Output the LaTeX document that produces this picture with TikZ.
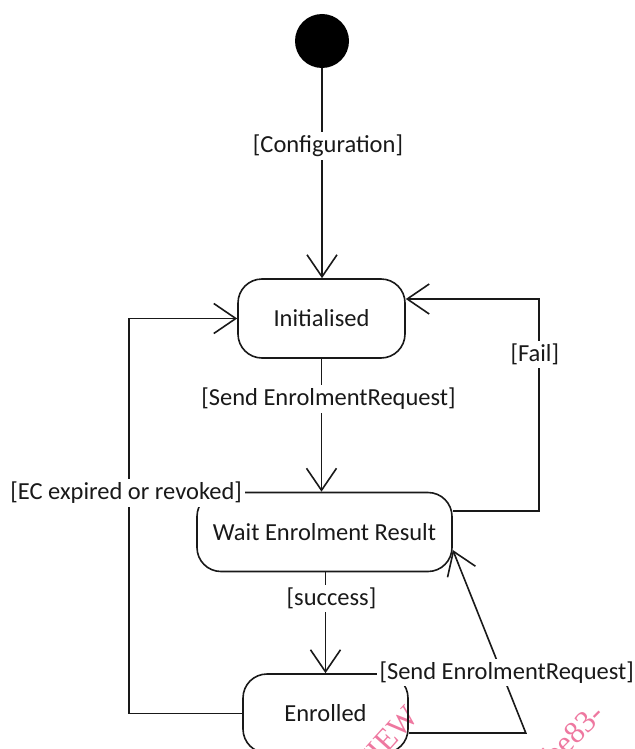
\documentclass[tikz,border=0pt]{standalone}
\usepackage{fontspec}
\setmainfont{Carlito}
\newfontfamily\wmfont{Liberation Serif}
\usetikzlibrary{arrows.meta}
\definecolor{wmpink}{RGB}{238,120,160}
\tikzset{
  state/.style={draw, rounded corners=24pt, line width=1.6pt, minimum height=79pt, inner sep=0pt},
  lbl/.style={fill=white, inner sep=3pt},
  arr/.style={line width=1.6pt, -{Straight Barb[length=22pt,width=30pt,line width=1.6pt]}},
  wmark/.style={text=wmpink, font=\fontsize{31}{31}\wmfont, inner sep=0pt}
}
\begin{document}
\begin{tikzpicture}[x=1pt, y=-1pt, font=\fontsize{24.5}{29}\selectfont, color=black!90]
    \useasboundingbox (0,0) rectangle (634,749);
    \node[wmark, rotate=48, anchor=base east] (wm1) at (420,718) {VIEW};
    \node[wmark, rotate=45, anchor=base east] (wm2) at (606,716) {be83-};
    \node[circle, fill=black, minimum size=54pt, inner sep=0pt] (start) at (322,41) {};
    \node[state, minimum width=167pt] (ini) at (321.5,318.5) {Initialised};
    \node[state, minimum width=255pt] (wait) at (324.5,532) {Wait Enrolment Result};
    \node[state, minimum width=165pt] (enr) at (325.5,713.5) {Enrolled};
    \draw[arr] (start) -- node[lbl, pos=.37, xshift=6pt] {[Configuration]} (start |- ini.north);
    \draw[arr] (ini.south) -- node[lbl, pos=.3, xshift=7pt] {[Send EnrolmentRequest]} (ini.south |- wait.north);
    \draw[arr] (enr.north |- wait.south) -- node[lbl, pos=.26, xshift=6pt] {[success]} (enr.north);
    \draw[arr] ([yshift=21pt]wait.east) -- ++(86,0) -- node[lbl, pos=.74, xshift=-4pt] {[Fail]} ++(0,-212) -- ([yshift=19.5pt]ini.east);
    \draw[arr] (enr.west) -- ++(-113,0) -- node[lbl, pos=.558, xshift=-3pt] {[EC expired or revoked]} ++(0,-395) -- (ini.west);
    \draw[arr] ([yshift=-19.5pt]enr.east) -- ++(117,0) -- node[lbl, pos=.33, xshift=5pt] {[Send EnrolmentRequest]} ([yshift=-18pt]wait.east);
\end{tikzpicture}
\end{document}
